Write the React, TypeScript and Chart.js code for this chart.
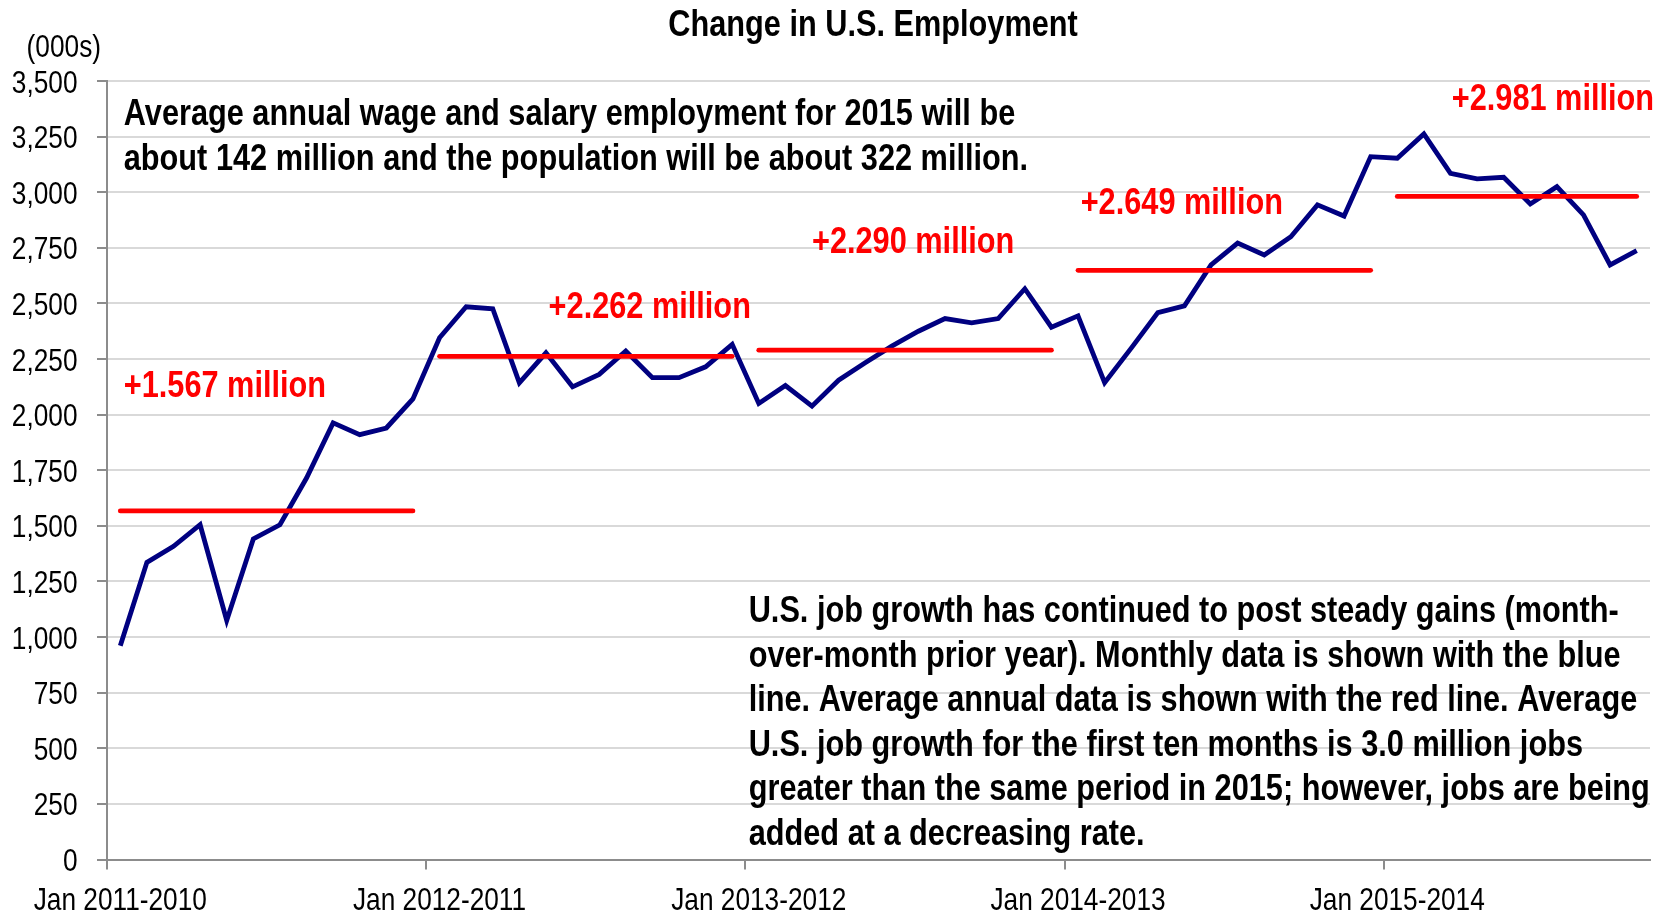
import React, { useEffect, useRef } from 'react';
import { Chart, registerables } from 'chart.js';

Chart.register(...registerables);

// ---------- data ----------
const months = ['Jan', 'Feb', 'Mar', 'Apr', 'May', 'Jun', 'Jul', 'Aug', 'Sep', 'Oct', 'Nov', 'Dec'];
const years = [2011, 2012, 2013, 2014, 2015];
const monthsPerYear = [12, 12, 12, 12, 10];

const change2011 = [961, 1336, 1408, 1505, 1075, 1441, 1505, 1715, 1963, 1910, 1940, 2071];
const change2012 = [2346, 2485, 2476, 2143, 2278, 2125, 2181, 2286, 2166, 2166, 2215, 2316];
const change2013 = [2050, 2131, 2038, 2155, 2233, 2308, 2375, 2432, 2413, 2432, 2566, 2393];
const change2014 = [2444, 2144, 2299, 2459, 2489, 2673, 2771, 2718, 2800, 2943, 2893, 3160];
const change2015 = [3153, 3262, 3085, 3060, 3067, 2947, 3025, 2898, 2673, 2737];

const annualAverage = [1567, 2262, 2290, 2649, 2981];
const annualLabels = ['+1.567 million', '+2.262 million', '+2.290 million', '+2.649 million', '+2.981 million'];
// anchor of each red label: [category index, value]
const annualLabelAnchors: [number, number][] = [[0.13, 2081], [16.1, 2434], [26.0, 2726], [36.1, 2902], [50.05, 3370]];

const titleText = 'Change in U.S. Employment';
const unitText = '(000s)';
const noteTop = [
  'Average annual wage and salary employment for 2015 will be',
  'about 142 million and the population will be about 322 million.',
];
const noteTopAnchor: [number, number] = [0.13, 3300];
const noteBottom = [
  'U.S. job growth has continued to post steady gains (month-',
  'over-month prior year). Monthly data is shown with the blue',
  'line. Average annual data is shown with the red line. Average',
  'U.S. job growth for the first ten months is 3.0 million jobs',
  'greater than the same period in 2015; however, jobs are being',
  'added at a decreasing rate.',
];
const noteBottomAnchor: [number, number] = [23.62, 1068];

const yMin = 0;
const yMax = 3500;
const yStep = 250;

// ---------- derived ----------
const categories: string[] = [];
years.forEach((y, yi) => {
  for (let m = 0; m < monthsPerYear[yi]; m++) categories.push(`${months[m]} ${y}-${y - 1}`);
});
const monthlyChange = [...change2011, ...change2012, ...change2013, ...change2014, ...change2015];

// Arial-Narrow look: Liberation Sans squeezed horizontally
const FONT = "'Liberation Sans', Arial, sans-serif";
const NARROW_SCALE = 0.82;
const NARROW_BOLD_SCALE = 0.83;

function narrowText(
  ctx: CanvasRenderingContext2D,
  text: string,
  x: number,
  y: number,
  align: CanvasTextAlign,
  sx: number = NARROW_SCALE
) {
  ctx.save();
  ctx.translate(x, y);
  ctx.scale(sx, 1);
  ctx.textAlign = align;
  ctx.textBaseline = 'alphabetic';
  ctx.fillText(text, 0, 0);
  ctx.restore();
}

const annotationPlugin = {
  id: 'textAnnotations',
  afterDraw(chart: any) {
    const { ctx, scales } = chart;
    const x = scales.x;
    const y = scales.y;
    const x0 = x.getPixelForValue(0);
    const step = x.getPixelForValue(1) - x0;
    const px = (i: number) => x0 + i * step;
    ctx.save();

    // axis tick labels (positions from the chart's scales)
    ctx.fillStyle = '#000000';
    ctx.font = `32px ${FONT}`;
    y.ticks.forEach((t: any) => {
      narrowText(ctx, Number(t.value).toLocaleString('en-US'), 77.5, y.getPixelForValue(t.value) + 11.5, 'right');
    });
    categories.forEach((c, i) => {
      if (i % 12 === 0) narrowText(ctx, c, x.getPixelForValue(i), x.bottom - 4, 'center');
    });
    narrowText(ctx, unitText, 101, 57, 'right');

    // red labels
    ctx.fillStyle = '#ff0000';
    ctx.font = `bold 37px ${FONT}`;
    annualLabels.forEach((t, i) => {
      const [ix, v] = annualLabelAnchors[i];
      narrowText(ctx, t, px(ix), y.getPixelForValue(v), 'left', NARROW_BOLD_SCALE);
    });

    // notes
    ctx.fillStyle = '#000000';
    const lh = 44.6;
    noteTop.forEach((t, i) => {
      narrowText(ctx, t, px(noteTopAnchor[0]), y.getPixelForValue(noteTopAnchor[1]) + i * lh, 'left', NARROW_BOLD_SCALE);
    });
    noteBottom.forEach((t, i) => {
      narrowText(ctx, t, px(noteBottomAnchor[0]), y.getPixelForValue(noteBottomAnchor[1]) + i * lh, 'left', NARROW_BOLD_SCALE);
    });

    // title
    narrowText(ctx, titleText, 873, 36, 'center', NARROW_BOLD_SCALE);
    ctx.restore();
  },
};

export default function App() {
  const canvasRef = useRef<HTMLCanvasElement | null>(null);

  useEffect(() => {
    document.body.style.margin = '0';
    const canvas = canvasRef.current;
    if (!canvas) return;

    const redSets = annualAverage.map((avg, yi) => {
      const start = monthsPerYear.slice(0, yi).reduce((a, b) => a + b, 0);
      const data = categories.map((_, i) => (i >= start && i < start + monthsPerYear[yi] ? avg : null));
      return {
        label: `Average ${years[yi]}`,
        data,
        borderColor: '#ff0000',
        borderWidth: 4.8,
        borderCapStyle: 'round' as const,
        pointRadius: 0,
        spanGaps: false,
        fill: false,
        order: 0,
      };
    });

    const chart = new Chart(canvas, {
      type: 'line',
      data: {
        labels: categories,
        datasets: [
          ...redSets,
          {
            label: 'Monthly change',
            data: monthlyChange,
            borderColor: '#000080',
            borderWidth: 4.8,
            pointRadius: 0,
            fill: false,
            tension: 0,
            order: 1,
          },
        ],
      },
      options: {
        responsive: false,
        animation: false,
        layout: { padding: { top: 81, right: 16, left: 0, bottom: 0 } },
        plugins: {
          legend: { display: false },
          title: { display: false },
          tooltip: { enabled: false },
        },
        scales: {
          x: {
            type: 'category',
            offset: true,
            grid: {
              offset: true,
              drawOnChartArea: false,
              drawTicks: true,
              tickLength: 10,
              lineWidth: 2,
              tickColor: (c: any) => (c.index % 12 === 0 ? '#8c8c8c' : 'rgba(0,0,0,0)'),
              color: 'rgba(0,0,0,0)',
            },
            border: { display: true, color: '#8c8c8c', width: 2 },
            ticks: { display: false, autoSkip: false, maxRotation: 0, minRotation: 0 },
            afterFit: (s: any) => {
              s.height = 54.5;
            },
          },
          y: {
            min: yMin,
            max: yMax,
            grid: {
              color: '#d9d9d9',
              lineWidth: 2,
              tickLength: 10,
              tickColor: '#8c8c8c',
            },
            border: { display: true, color: '#8c8c8c', width: 2 },
            ticks: { display: false, stepSize: yStep },
            afterFit: (s: any) => {
              s.width = 107;
            },
          },
        },
      },
      plugins: [annotationPlugin],
    });

    return () => chart.destroy();
  }, []);

  return (
    <div style={{ width: 1666, height: 914 }}>
      <canvas ref={canvasRef} width={1666} height={914} style={{ display: 'block', width: 1666, height: 914 }} />
    </div>
  );
}
